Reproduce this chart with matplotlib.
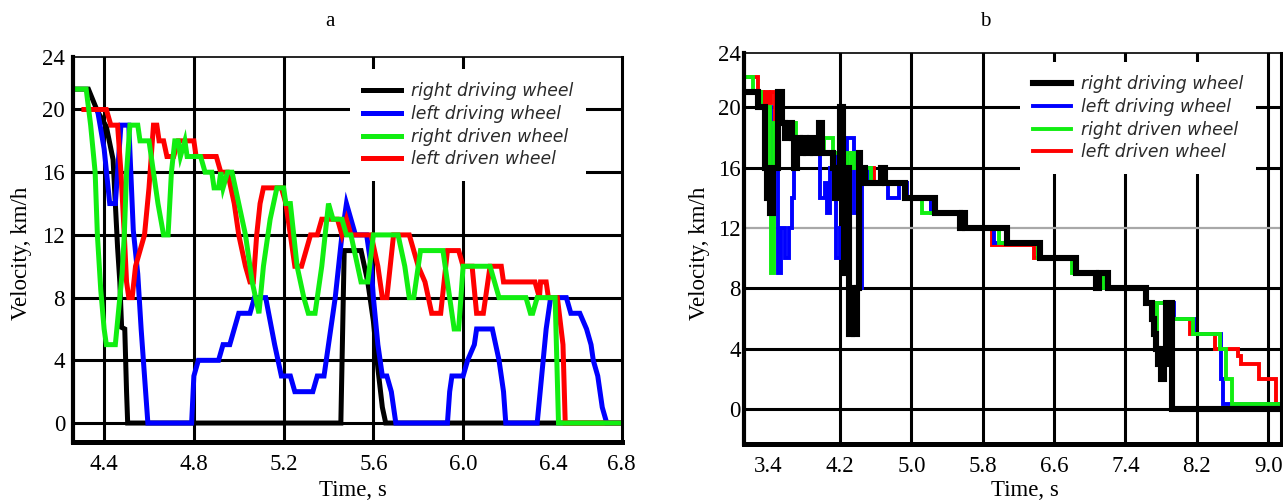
import matplotlib
matplotlib.use('Agg')
import matplotlib.pyplot as plt

plt.rcParams['font.family'] = ['Liberation Serif', 'DejaVu Serif']

# ---------------- data ----------------
series_labels = ['right driving wheel', 'left driving wheel', 'right driven wheel', 'left driven wheel']
series_colors = ['#000000', '#0000ff', '#11ee11', '#ff0000']

# Panel a  (time s, velocity km/h) polylines
a_right_driving = [(4.26, 21.3), (4.33, 21.3), (4.37, 19.9), (4.41, 18.9), (4.44, 16.8), (4.46, 11.2),
                   (4.47, 9.0), (4.478, 6.1), (4.492, 6.0), (4.50, 2.0), (4.505, 0.0), (5.455, 0.0),
                   (5.47, 11.0), (5.545, 11.0), (5.575, 9.0), (5.60, 6.5), (5.62, 3.5), (5.64, 1.0),
                   (5.655, 0.0), (6.71, 0.0)]
a_left_driving = [(4.33, 20), (4.37, 20), (4.40, 17.5), (4.425, 14), (4.45, 14), (4.475, 19), (4.51, 19),
                  (4.53, 12.3), (4.55, 9.5), (4.565, 6), (4.58, 3), (4.595, 0), (4.79, 0), (4.80, 3),
                  (4.82, 4), (4.91, 4), (4.93, 5), (4.96, 5), (4.98, 6), (5.00, 7), (5.05, 7), (5.07, 8),
                  (5.12, 8), (5.16, 5), (5.19, 3), (5.23, 3), (5.25, 2), (5.33, 2), (5.35, 3), (5.38, 3),
                  (5.40, 5), (5.43, 8), (5.46, 12), (5.48, 14), (5.50, 13), (5.52, 12), (5.57, 12),
                  (5.59, 10), (5.60, 8), (5.62, 5), (5.64, 3), (5.66, 3), (5.68, 2), (5.70, 0), (5.93, 0),
                  (5.94, 2), (5.95, 3), (6.00, 3), (6.02, 4), (6.05, 5), (6.06, 6), (6.13, 6), (6.16, 4),
                  (6.18, 2), (6.19, 0), (6.33, 0), (6.35, 3), (6.37, 6), (6.39, 8), (6.46, 8), (6.48, 7),
                  (6.52, 7), (6.55, 6), (6.57, 5), (6.58, 4), (6.60, 3), (6.62, 1), (6.64, 0), (6.71, 0)]
a_right_driven = [(4.26, 21.3), (4.32, 21.3), (4.34, 19), (4.36, 16), (4.37, 12), (4.385, 8.5), (4.40, 6),
                  (4.41, 5), (4.45, 5), (4.47, 8), (4.48, 9.5), (4.49, 12), (4.50, 16), (4.515, 19),
                  (4.55, 19), (4.56, 18), (4.60, 18), (4.62, 16), (4.64, 14), (4.665, 12), (4.685, 12),
                  (4.70, 16), (4.715, 18), (4.73, 18), (4.74, 17), (4.76, 18), (4.77, 17), (4.83, 17),
                  (4.85, 16), (4.88, 16), (4.89, 15), (4.91, 15), (4.92, 16), (4.93, 15), (4.95, 16),
                  (4.97, 16), (5.0, 14), (5.03, 12), (5.06, 9), (5.09, 7), (5.11, 10), (5.14, 13),
                  (5.17, 15), (5.20, 15), (5.21, 14), (5.23, 14), (5.26, 10), (5.29, 8), (5.31, 7),
                  (5.34, 7), (5.37, 10), (5.40, 14), (5.42, 13), (5.46, 13), (5.48, 12), (5.50, 12),
                  (5.53, 10), (5.545, 9), (5.575, 9), (5.60, 12), (5.71, 12), (5.74, 10), (5.76, 8),
                  (5.78, 8), (5.81, 11), (5.91, 11), (5.93, 9), (5.96, 6), (5.98, 6), (6.0, 10),
                  (6.12, 10), (6.14, 9), (6.16, 8), (6.28, 8), (6.30, 7), (6.31, 7), (6.33, 8),
                  (6.41, 8), (6.425, 0), (6.71, 0)]
a_left_driven = [(4.31, 20), (4.41, 20), (4.43, 19), (4.46, 19), (4.475, 16), (4.49, 12), (4.50, 9),
                 (4.51, 8), (4.525, 8), (4.54, 10), (4.56, 11), (4.58, 12), (4.60, 15), (4.62, 19),
                 (4.635, 19), (4.645, 18), (4.665, 18), (4.68, 17), (4.71, 17), (4.73, 18), (4.80, 18),
                 (4.81, 17), (4.90, 17), (4.92, 16), (4.95, 16), (4.98, 14), (5.0, 12), (5.03, 10),
                 (5.05, 9), (5.065, 9), (5.08, 12), (5.095, 14), (5.11, 15), (5.19, 15), (5.21, 14),
                 (5.23, 12), (5.25, 10), (5.28, 10), (5.30, 11), (5.32, 12), (5.35, 12), (5.37, 13),
                 (5.44, 13), (5.46, 12), (5.48, 13), (5.50, 12), (5.59, 12), (5.62, 10), (5.64, 8),
                 (5.66, 8), (5.69, 12), (5.76, 12), (5.78, 11), (5.80, 10), (5.83, 9), (5.86, 7),
                 (5.90, 7), (5.93, 11), (5.98, 11), (6.0, 10), (6.04, 10), (6.06, 7), (6.09, 7),
                 (6.12, 10), (6.17, 10), (6.18, 9), (6.32, 9), (6.34, 8), (6.345, 9), (6.37, 9),
                 (6.38, 8), (6.42, 8), (6.445, 5), (6.455, 0), (6.71, 0)]

# Panel b  (step start time s, velocity km/h) step series
b_right_driving = [(3.12, 21), (3.285, 20), (3.36, 16), (3.38, 14), (3.415, 13), (3.45, 16), (3.50, 21),
                   (3.55, 19), (3.58, 18), (3.62, 19), (3.66, 18), (3.69, 16), (3.72, 18), (3.75, 17),
                   (3.78, 18), (3.82, 17), (3.86, 18), (3.90, 17), (3.97, 19), (4.00, 17), (4.12, 16),
                   (4.14, 14), (4.17, 16), (4.19, 15), (4.205, 20), (4.23, 15), (4.245, 9), (4.26, 16),
                   (4.30, 5), (4.33, 8), (4.36, 5), (4.39, 8), (4.41, 17), (4.43, 16), (4.48, 15),
                   (4.66, 16), (4.71, 15), (4.93, 14), (5.26, 13), (5.55, 12), (5.57, 13), (5.60, 12),
                   (6.07, 11), (6.44, 10), (6.85, 9), (7.07, 8), (7.10, 9), (7.20, 8), (7.63, 7),
                   (7.70, 6), (7.72, 5), (7.74, 4), (7.76, 3), (7.78, 4), (7.80, 2), (7.83, 3),
                   (7.85, 7), (7.92, 0)]
b_left_driving = [(3.12, 21), (3.29, 20), (3.43, 16), (3.50, 9), (3.54, 12), (3.58, 10), (3.63, 12),
                  (3.66, 14), (3.68, 16), (3.70, 18), (3.98, 14), (4.03, 15), (4.05, 13), (4.09, 16),
                  (4.12, 17), (4.16, 10), (4.20, 12), (4.23, 9), (4.26, 16), (4.28, 18), (4.36, 13),
                  (4.40, 8), (4.45, 16), (4.52, 15), (4.74, 14), (4.86, 15), (4.95, 14), (5.22, 13),
                  (5.58, 12), (5.93, 11), (6.43, 10), (6.83, 9), (7.17, 8), (7.63, 7), (7.95, 6),
                  (8.17, 5), (8.47, 2), (8.49, 0.3)]
b_right_driven = [(3.12, 22), (3.23, 21), (3.32, 20), (3.42, 13), (3.43, 9), (3.46, 19), (3.71, 18),
                  (3.86, 17), (4.02, 18), (4.12, 17), (4.28, 16), (4.32, 17), (4.36, 16), (4.55, 15),
                  (4.93, 14), (5.12, 13), (5.54, 12), (5.98, 11), (6.42, 10), (6.80, 9), (7.15, 8),
                  (7.62, 7), (7.72, 5), (7.75, 7), (7.93, 6), (8.16, 5), (8.46, 4), (8.53, 2),
                  (8.59, 0.3)]
b_left_driven = [(3.12, 22), (3.28, 21), (3.34, 20.3), (3.37, 21), (3.40, 20.3), (3.43, 21), (3.47, 19),
                 (3.70, 18), (3.85, 17), (4.33, 16), (4.58, 15), (4.95, 14), (5.22, 13), (5.55, 12),
                 (5.90, 10.9), (6.37, 10), (6.85, 9), (7.18, 8), (7.63, 7), (7.87, 6), (8.12, 5),
                 (8.40, 4), (8.66, 3.5), (8.69, 3), (8.90, 2), (9.09, 0.3)]

a_xticks = [4.4, 4.8, 5.2, 5.6, 6.0, 6.4, 6.705]
a_xticklabels = ['4.4', '4.8', '5.2', '5.6', '6.0', '6.4', '6.8']
a_xgrid = [4.4, 4.8, 5.2, 5.6, 6.0]
a_yticks = [0, 4, 8, 12, 16, 20, 23.38]
a_yticklabels = ['0', '4', '8', '12', '16', '20', '24']

b_xticks = [3.4, 4.2, 5.0, 5.8, 6.6, 7.4, 8.2, 9.0]
b_xticklabels = ['3.4', '4.2', '5.0', '5.8', '6.6', '7.4', '8.2', '9.0']
b_xgrid = [4.2, 5.0, 5.8, 6.6, 7.4, 8.2, 9.0]
b_yticks = [0, 4, 8, 12, 16, 20, 23.61]
b_yticklabels = ['0', '4', '8', '12', '16', '20', '24']
ygrid = [0, 4, 8, 12, 16, 20]

# ---------------- figure ----------------
W, H = 1283, 503
fig = plt.figure(figsize=(W / 100, H / 100), dpi=100)
fig.patch.set_facecolor('white')


def px_axes(x0, y0, x1, y1):
    return fig.add_axes([x0 / W, (H - y1) / H, (x1 - x0) / W, (y1 - y0) / H])


ax1 = px_axes(72.7, 56.5, 622, 442)
ax2 = px_axes(744, 53, 1281, 444)

ax1.set_xlim(4.26, 6.708)
ax1.set_ylim(-1.21, 23.38)
ax2.set_xlim(3.124, 9.144)
ax2.set_ylim(-2.32, 23.61)

FS = 16.5
for ax, xt, xtl, yt, ytl, ypad in [(ax1, a_xticks, a_xticklabels, a_yticks, a_yticklabels, 5.5),
                                    (ax2, b_xticks, b_xticklabels, b_yticks, b_yticklabels, 2.5)]:
    ax.set_xticks(xt, xtl)
    ax.set_yticks(yt, ytl)
    ax.tick_params(axis='x', length=0, pad=9, labelsize=FS)
    ax.tick_params(axis='y', length=0, pad=ypad, labelsize=FS)
    ax.spines['left'].set_linewidth(3.0)
    ax.spines['bottom'].set_linewidth(3.6)
    ax.spines['top'].set_linewidth(1.2)
    ax.spines['right'].set_linewidth(2.2)
    for s in ax.spines.values():
        s.set_zorder(6)

# grid lines
for g in a_xgrid:
    ax1.axvline(g, color='black', lw=2.2, zorder=1)
for g in ygrid:
    ax1.axhline(g, color='black', lw=2.2, zorder=1)
for g in b_xgrid:
    ax2.axvline(g, color='black', lw=2.2, zorder=1)
for g in ygrid:
    if g == 12:
        ax2.axhline(g, color='#a8a8a8', lw=1.6, zorder=1)
    else:
        ax2.axhline(g, color='black', lw=2.2, zorder=1)

# panel a lines
a_series = [a_right_driving, a_left_driving, a_right_driven, a_left_driven]
a_z = [2, 3, 5, 4]
a_handles = []
for data, col, lab, z in zip(a_series, series_colors, series_labels, a_z):
    t = [p[0] for p in data]
    v = [p[1] for p in data]
    ln, = ax1.plot(t, v, color=col, lw=3.6, label=lab, zorder=z, solid_joinstyle='miter')
    a_handles.append(ln)

# panel b lines (steps)
b_series = [b_right_driving, b_left_driving, b_right_driven, b_left_driven]
b_z = [5, 3, 4, 2]
b_lw = [4.4, 2.8, 2.8, 2.8]
xend = ax2.get_xlim()[1]
b_handles = []
for data, col, lab, z, lw in zip(b_series, series_colors, series_labels, b_z, b_lw):
    t = [p[0] for p in data] + [xend]
    v = [p[1] for p in data] + [data[-1][1]]
    ln, = ax2.plot(t, v, color=col, lw=lw, label=lab, zorder=z, drawstyle='steps-post',
                   solid_joinstyle='miter')
    b_handles.append(ln)

leg_prop = dict(family='DejaVu Sans', style='italic', size=12.4)
for ax, handles, (lx, ly) in [(ax1, a_handles, (350, 69)), (ax2, b_handles, (1020, 62))]:
    leg = ax.legend(handles=handles, labels=series_labels, loc='upper left',
                    bbox_to_anchor=(lx / W, 1 - ly / H), bbox_transform=fig.transFigure,
                    frameon=True, facecolor='white', edgecolor='none', framealpha=1.0,
                    fancybox=False, prop=leg_prop, handlelength=2.2, handletextpad=0.6,
                    labelspacing=0.28, borderpad=0.75, borderaxespad=0)
    leg.set_zorder(7)
    for txt in leg.get_texts():
        txt.set_color('#2a2a2a')

# titles and axis labels
fig.text(330 / W, 1 - 22 / H, 'a', ha='center', va='center', fontsize=15)
fig.text(985 / W, 1 - 22 / H, 'b', ha='center', va='center', fontsize=15)
fig.text(353 / W, 1 - 491 / H, 'Time, s', ha='center', va='center', fontsize=FS)
fig.text(1025 / W, 1 - 491 / H, 'Time, s', ha='center', va='center', fontsize=FS)
fig.text(22 / W, 1 - 253 / H, 'Velocity, km/h', ha='center', va='center', rotation=90, fontsize=FS)
fig.text(700 / W, 1 - 253 / H, 'Velocity, km/h', ha='center', va='center', rotation=90, fontsize=FS)

fig.savefig('out.png', dpi=100, facecolor='white')
